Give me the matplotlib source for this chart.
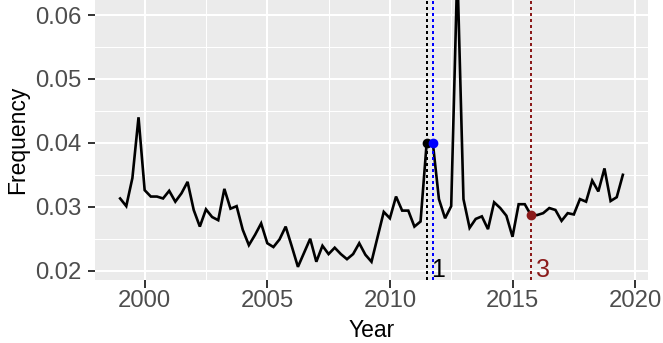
import numpy as np
import matplotlib
matplotlib.use("Agg")
import matplotlib.pyplot as plt
from matplotlib.ticker import MultipleLocator

plt.rcParams['font.family'] = ['Liberation Sans', 'DejaVu Sans']

# Quarterly time axis 1999 Q1 .. 2019 Q3
start_year = 1999
n_quarters = 83
time = start_year + np.arange(n_quarters) * 0.25

freq = [
    0.0313, 0.0301, 0.0345, 0.0440,   # 1999
    0.0326, 0.0316, 0.0316, 0.0313,   # 2000
    0.0325, 0.0308, 0.0321, 0.0339,   # 2001
    0.0295, 0.0269, 0.0296, 0.0284,   # 2002
    0.0279, 0.0328, 0.0297, 0.0301,   # 2003
    0.0264, 0.0240, 0.0256, 0.0274,   # 2004
    0.0243, 0.0237, 0.0249, 0.0269,   # 2005
    0.0238, 0.0206, 0.0228, 0.0250,   # 2006
    0.0214, 0.0239, 0.0226, 0.0236,   # 2007
    0.0226, 0.0218, 0.0226, 0.0243,   # 2008
    0.0225, 0.0214, 0.0253, 0.0292,   # 2009
    0.0282, 0.0316, 0.0294, 0.0294,   # 2010
    0.0269, 0.0277, 0.0400, 0.0400,   # 2011
    0.0312, 0.0282, 0.0301, 0.0672,   # 2012
    0.0312, 0.0267, 0.0281, 0.0285,   # 2013
    0.0265, 0.0307, 0.0298, 0.0286,   # 2014
    0.0253, 0.0304, 0.0304, 0.0287,   # 2015
    0.0287, 0.0290, 0.0298, 0.0295,   # 2016
    0.0278, 0.0290, 0.0288, 0.0312,   # 2017
    0.0308, 0.0341, 0.0324, 0.0360,   # 2018
    0.0309, 0.0315, 0.0350,           # 2019
]

marker_times = [2011.5, 2011.75, 2015.75]
marker_colors = ['black', '#0000FF', '#8B1A1A']
label_texts = ['1', '3']
label_times = [2011.68, 2015.96]
label_colors = ['black', '#8B1A1A']

x_ticks = [2000, 2005, 2010, 2015, 2020]
y_ticks = [0.02, 0.03, 0.04, 0.05, 0.06]

fig = plt.figure(figsize=(6.63, 3.43), dpi=100)
ax = fig.add_axes([95/663, 1 - 280/343, 553/663, 280/343])
ax.set_facecolor('#EBEBEB')
for s in ax.spines.values():
    s.set_visible(False)

ax.set_xlim(1997.975, 2020.525)
ax.set_ylim(0.018545, 0.062347)
ax.set_xticks(x_ticks)
ax.set_yticks(y_ticks)
ax.xaxis.set_minor_locator(MultipleLocator(2.5))
ax.yaxis.set_minor_locator(MultipleLocator(0.005))
ax.set_yticklabels([f"{v:.2f}" for v in y_ticks])
ax.set_xticklabels([str(v) for v in x_ticks])
ax.grid(which='major', color='white', linewidth=1.45)
ax.grid(which='minor', color='white', linewidth=0.72)
ax.set_axisbelow(True)
ax.tick_params(which='major', length=5.4, width=1.4, color='#333333',
               labelcolor='#4D4D4D', labelsize=17.2)
ax.tick_params(axis='x', pad=2)
ax.tick_params(axis='y', pad=4.4)
ax.tick_params(which='minor', length=0)

ax.plot(time, freq, color='black', linewidth=1.9, zorder=3, solid_joinstyle='miter')

freq_arr = np.array(freq)
for t, c in zip(marker_times, marker_colors):
    ax.axvline(t, color=c, linewidth=1.6, linestyle=(0, (0.9, 1.45)),
               dash_capstyle='butt', zorder=4, antialiased=False)
for t, c in zip(marker_times, marker_colors):
    idx = int(round((t - start_year) / 0.25))
    ax.plot([t], [freq_arr[idx]], 'o', color=c, markersize=6, zorder=5)

for txt, t, c in zip(label_texts, label_times, label_colors):
    ax.text(t, 0.01906, txt, color=c, fontsize=18, ha='left', va='baseline', zorder=6)

ax.set_xlabel('Year', fontsize=16.5, color='black', labelpad=4.5)
ax.set_ylabel('Frequency', fontsize=16.5, color='black', labelpad=4)

fig.savefig('out.png', dpi=100)
